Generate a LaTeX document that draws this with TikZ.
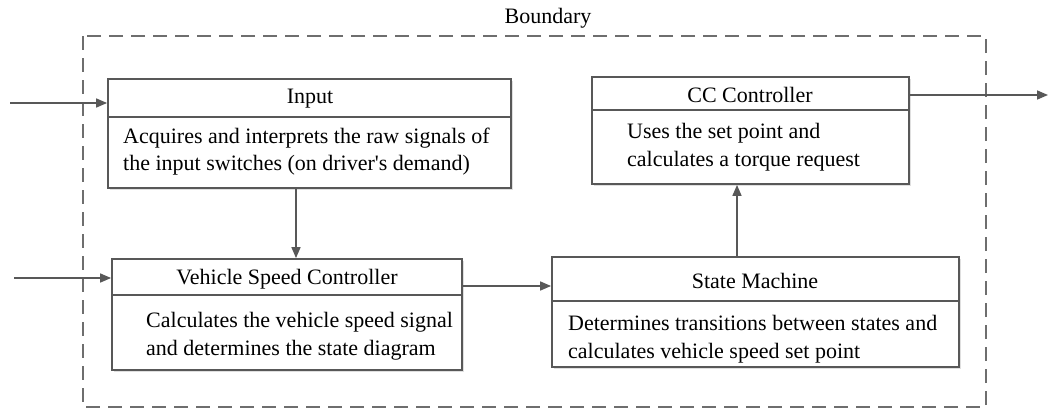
\documentclass[tikz,border=0pt]{standalone}
\usepackage{fontspec}
\setmainfont{Liberation Serif}
\usetikzlibrary{arrows.meta,positioning,shadows}
\definecolor{linegray}{RGB}{88,88,88}
\definecolor{dashgray}{RGB}{110,110,110}
\tikzset{
    box/.style={draw=linegray, line width=1.8pt, fill=white, inner sep=0pt,
        drop shadow={shadow xshift=1.5pt, shadow yshift=-1.5pt, opacity=0.25}},
    sep/.style={draw=linegray, line width=1.6pt},
    title/.style={font=\fontsize{22}{26}\selectfont},
    body/.style={font=\fontsize{22}{27.5}\selectfont, align=left, anchor=west, inner sep=0pt},
    arr/.style={draw=linegray, line width=1.6pt, -{Triangle[length=11pt,width=9pt]}}
}
\begin{document}
\begin{tikzpicture}[x=1pt,y=-1pt]
    \useasboundingbox (0,0) rectangle (1049,410);
    \draw[dashgray, line width=1.6pt, dash pattern=on 14pt off 8pt] (83,36) rectangle (986,407);
    \node (bnd) at (548,18) [title] {Boundary};
    \node (input) at (309.5,133.5) [box, minimum width=403, minimum height=109] {};
    \node (cc) at (750.5,130.5) [box, minimum width=317, minimum height=107] {};
    \node (vsc) at (287,314.5) [box, minimum width=350, minimum height=111] {};
    \node (sm) at (755.5,312) [box, minimum width=407, minimum height=110] {};
    \draw[sep] (108,117) -- (511,117);
    \draw[sep] (592,110) -- (909,110);
    \draw[sep] (112,295) -- (462,295);
    \draw[sep] (552,301) -- (959,301);
    \node (inputT) at (310,99) [title] {Input};
    \node (ccT) at (750,95) [title] {CC Controller};
    \node (vscT) at (287,279) [title] {Vehicle Speed Controller};
    \node (smT) at (755,281) [title] {State Machine};
    \node (inputB) at (123,151.5) [body] {Acquires and interprets the raw signals of\\the input switches (on driver\textquotesingle s demand)};
    \node (ccB) at (627,147) [body] {Uses the set point and\\calculates a torque request};
    \node (vscB) at (146,336) [body] {Calculates the vehicle speed signal\\and determines the state diagram};
    \node (smB) at (568,339) [body] {Determines transitions between states and\\calculates vehicle speed set point};
    \coordinate (in1) at (10,103);
    \coordinate (in2) at (14,278);
    \coordinate (out) at (1048,95);
    \coordinate (x1) at (296,0);
    \coordinate (x2) at (737,0);
    \coordinate (y1) at (0,286);
    \draw[arr] (in1) -- (in1 -| input.west);
    \draw[arr] (in2) -- (in2 -| vsc.west);
    \draw[arr] (out -| cc.east) -- (out);
    \draw[arr] (x1 |- input.south) -- (x1 |- vsc.north);
    \draw[arr] (y1 -| vsc.east) -- (y1 -| sm.west);
    \draw[arr] (x2 |- sm.north) -- (x2 |- cc.south);
\end{tikzpicture}
\end{document}
